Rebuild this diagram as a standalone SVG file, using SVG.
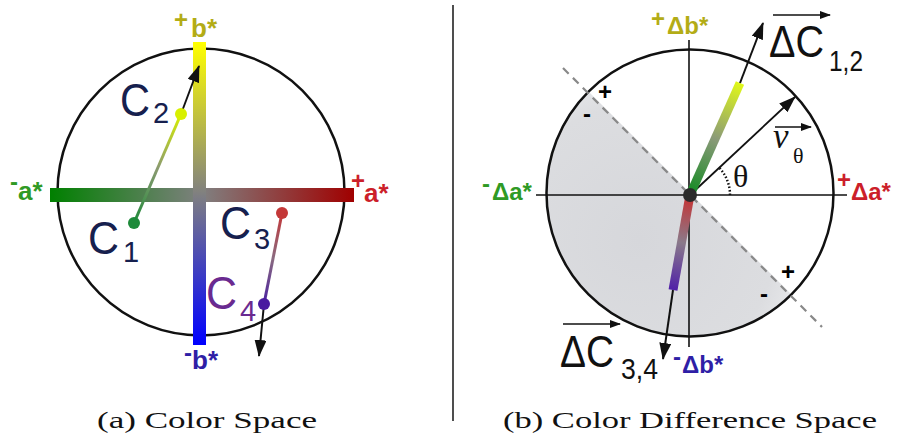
<svg xmlns="http://www.w3.org/2000/svg" width="899" height="438" viewBox="0 0 899 438">
<style>
.circ{fill:none;stroke:#111;stroke-width:2.5}
.ax{stroke:#111;stroke-width:1.6}
.arr{stroke:#111;stroke-width:2;fill:none;marker-end:url(#ah)}
.oarr{stroke:#111;stroke-width:1.6;fill:none;marker-end:url(#oh)}
.lab{font-family:"Liberation Sans",Arial,sans-serif;font-weight:bold;font-size:26px}
.sgn{font-family:"Liberation Sans",Arial,sans-serif;font-weight:bold;font-size:24px}
.c{font-family:"Liberation Sans",Arial,sans-serif;font-size:46px;fill:#16204e}
.sub{font-family:"Liberation Sans",Arial,sans-serif;font-size:29px;fill:#16204e}
.ser{font-family:"Liberation Serif","Times New Roman",serif}
.dc{font-family:"Liberation Sans",Arial,sans-serif;font-size:45px;fill:#111}
.cap{font-family:"Liberation Serif","Times New Roman",serif;font-size:24px;fill:#111}
.olive{fill:#b3ac16}.green{fill:#2f9a24}.red{fill:#cc1f2a}.blue{fill:#2f1fa6}
</style>
<defs>
<marker id="ah" markerUnits="userSpaceOnUse" markerWidth="17" markerHeight="12" refX="16" refY="6" orient="auto"><path d="M0,0 L17,6 L0,12 z" fill="#111"/></marker>
<marker id="oh" markerUnits="userSpaceOnUse" markerWidth="11" markerHeight="8" refX="10" refY="4" orient="auto"><path d="M0,0 L11,4 L0,8 z" fill="#111"/></marker>
<linearGradient id="gv" gradientUnits="userSpaceOnUse" x1="0" y1="42" x2="0" y2="345"><stop offset="0" stop-color="#ffff00"/><stop offset="0.5" stop-color="#808080"/><stop offset="1" stop-color="#0000ff"/></linearGradient>
<linearGradient id="gh" gradientUnits="userSpaceOnUse" x1="50" y1="0" x2="354" y2="0"><stop offset="0" stop-color="#008000"/><stop offset="0.5" stop-color="#808080"/><stop offset="1" stop-color="#a00000"/></linearGradient>
<linearGradient id="g12" gradientUnits="userSpaceOnUse" x1="134" y1="223" x2="181" y2="114"><stop offset="0" stop-color="#1e8a3a"/><stop offset="0.5" stop-color="#8a9a70"/><stop offset="1" stop-color="#d8f000"/></linearGradient>
<linearGradient id="g34" gradientUnits="userSpaceOnUse" x1="282" y1="213" x2="264" y2="304"><stop offset="0" stop-color="#c43838"/><stop offset="0.5" stop-color="#8a6a80"/><stop offset="1" stop-color="#4a20a0"/></linearGradient>
<linearGradient id="gb12" gradientUnits="userSpaceOnUse" x1="690" y1="195" x2="740" y2="83"><stop offset="0" stop-color="#108a20"/><stop offset="0.5" stop-color="#8a9a78"/><stop offset="1" stop-color="#e0f818"/></linearGradient>
<linearGradient id="gb34" gradientUnits="userSpaceOnUse" x1="690" y1="195" x2="673" y2="290"><stop offset="0" stop-color="#c83030"/><stop offset="0.5" stop-color="#8a7a8a"/><stop offset="1" stop-color="#5020a8"/></linearGradient>
<radialGradient id="shade" gradientUnits="userSpaceOnUse" cx="640" cy="240" r="170"><stop offset="0" stop-color="#d6d7db"/><stop offset="0.8" stop-color="#dcdde0"/><stop offset="1" stop-color="#e8e9eb"/></radialGradient>
</defs>

<g id="panel-a">
<g id="space-circle"><circle class="circ" cx="201" cy="192" r="143.5"/></g>
<g id="axis-a"><rect x="50" y="188" width="304" height="14" fill="url(#gh)"/></g>
<g id="axis-b"><rect x="193" y="42" width="13" height="303" fill="url(#gv)"/></g>
<g id="label-pb"><text class="sgn olive" x="174" y="28">+</text><text class="lab olive" x="191" y="37">b*</text></g>
<g id="label-na"><text class="sgn green" x="10" y="190">-</text><text class="lab green" x="18" y="200">a*</text></g>
<g id="label-pa"><text class="sgn red" x="351" y="189">+</text><text class="lab red" x="364" y="202">a*</text></g>
<g id="label-nb"><text class="sgn blue" x="184" y="361">-</text><text class="lab blue" x="192" y="369">b*</text></g>
<g id="connectors-a">
<line x1="134" y1="223" x2="181" y2="114" stroke="url(#g12)" stroke-width="3"/>
<line class="arr" x1="181" y1="114" x2="199" y2="66"/>
<line x1="282" y1="213" x2="264" y2="304" stroke="url(#g34)" stroke-width="3"/>
<line class="arr" x1="264" y1="304" x2="259" y2="356"/>
</g>
<g id="C1"><circle cx="134" cy="223" r="6" fill="#1e8a3a"/><text class="c" x="88" y="254" textLength="31" lengthAdjust="spacingAndGlyphs">C</text><text class="sub" x="123" y="262">1</text></g>
<g id="C2"><circle cx="181" cy="114" r="6" fill="#d8f000"/><text class="c" x="120" y="116" textLength="30" lengthAdjust="spacingAndGlyphs">C</text><text class="sub" x="153" y="123">2</text></g>
<g id="C3"><circle cx="282" cy="213" r="6" fill="#c43838"/><text class="c" x="220" y="239" textLength="31" lengthAdjust="spacingAndGlyphs">C</text><text class="sub" x="254" y="249">3</text></g>
<g id="C4"><circle cx="264" cy="304" r="6" fill="#4a1aa0"/><text class="c" x="206" y="309" textLength="31" lengthAdjust="spacingAndGlyphs" style="fill:#6a2a90">C</text><text class="sub" x="240" y="321" style="fill:#6a2a90">4</text></g>
<text class="cap" x="97" y="428" textLength="220" lengthAdjust="spacingAndGlyphs">(a) Color Space</text>
</g>

<g id="divider"><line x1="453" y1="5" x2="453" y2="421" stroke="#222" stroke-width="1.6"/></g>

<g id="panel-b">
<g id="shaded-half"><path d="M588,91 A144,144 0 0 0 792,295 Z" fill="url(#shade)"/></g>
<g id="diff-circle"><circle class="circ" cx="690" cy="193" r="143.5"/></g>
<g id="axes-b">
<line class="ax" x1="536" y1="195" x2="847" y2="195"/>
<line class="ax" x1="689" y1="40" x2="689" y2="347"/>
</g>
<g id="dashed-divider"><line x1="563" y1="68" x2="822" y2="327" stroke="#888" stroke-width="2.2" stroke-dasharray="8,6"/></g>
<g id="signs">
<text class="sgn" x="598" y="100">+</text><text class="sgn" x="583" y="122">-</text>
<text class="sgn" x="781" y="280">+</text><text class="sgn" x="760" y="302">-</text>
</g>
<g id="label-pdb"><text class="sgn olive" x="651" y="27">+</text><text class="lab olive" x="667" y="34" style="font-size:24px">Δb*</text></g>
<g id="label-nda"><text class="sgn green" x="482" y="192">-</text><text class="lab green" x="492" y="200" style="font-size:24px">Δa*</text></g>
<g id="label-pda"><text class="sgn red" x="837" y="188">+</text><text class="lab red" x="851" y="200" style="font-size:24px">Δa*</text></g>
<g id="label-ndb"><text class="sgn blue" x="673" y="365">-</text><text class="lab blue" x="682" y="373" style="font-size:24px">Δb*</text></g>
<g id="connectors-b">
<line class="arr" style="stroke-width:1.8" x1="690" y1="195" x2="795" y2="97"/>
<path d="M730,195 A40,40 0 0 0 719.3,167.7" fill="none" stroke="#111" stroke-width="2.5" stroke-dasharray="1.5,2"/>
<line x1="690" y1="195" x2="740" y2="83" stroke="url(#gb12)" stroke-width="9"/>
<line class="arr" x1="740" y1="83" x2="763" y2="23"/>
<line x1="690" y1="195" x2="673" y2="290" stroke="url(#gb34)" stroke-width="9"/>
<line class="arr" x1="673" y1="290" x2="663" y2="359"/>
</g>
<g id="origin"><circle cx="690" cy="195" r="7" fill="#2a2a2a"/></g>
<g id="theta"><text class="ser" x="733" y="187" font-size="32" fill="#111">θ</text></g>
<g id="v-theta">
<text class="ser" x="773" y="148" font-size="35" font-style="italic" fill="#111">v</text>
<text class="ser" x="793" y="163" font-size="22" fill="#111">θ</text>
<line class="oarr" x1="775" y1="127" x2="811" y2="127"/>
</g>
<g id="dC12">
<text class="dc" x="769" y="57" textLength="55" lengthAdjust="spacingAndGlyphs">ΔC</text>
<text class="sub" x="829" y="71" style="fill:#111" textLength="34" lengthAdjust="spacingAndGlyphs">1,2</text>
<line class="oarr" x1="773" y1="15" x2="830" y2="15"/>
</g>
<g id="dC34">
<text class="dc" x="560" y="367" textLength="54" lengthAdjust="spacingAndGlyphs">ΔC</text>
<text class="sub" x="621" y="379" style="fill:#111" textLength="37" lengthAdjust="spacingAndGlyphs">3,4</text>
<line class="oarr" x1="563" y1="324" x2="620" y2="324"/>
</g>
<text class="cap" x="503" y="428" textLength="374" lengthAdjust="spacingAndGlyphs">(b) Color Difference Space</text>
</g>
</svg>
